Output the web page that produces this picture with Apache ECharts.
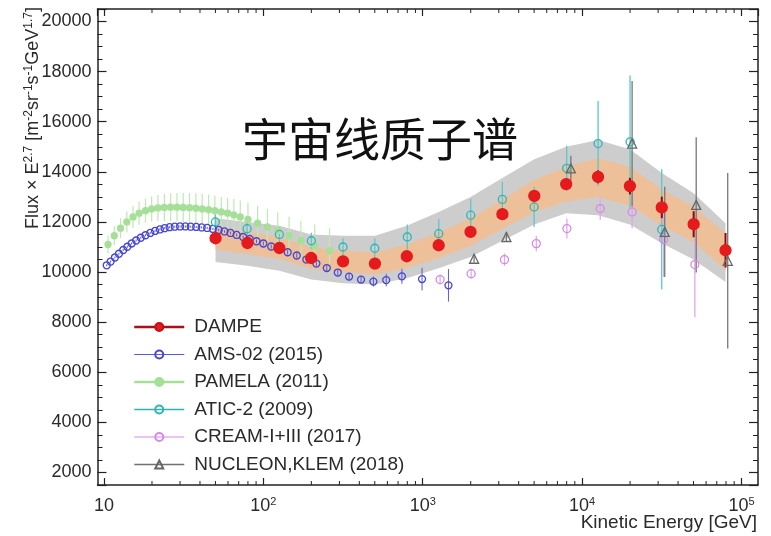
<!DOCTYPE html>
<html>
<head>
<meta charset="utf-8">
<script src="https://cdn.jsdelivr.net/npm/echarts@6.0.0/dist/echarts.min.js"></script>
<style>
  html, body { margin: 0; padding: 0; background: #fff; }
  #chart { width: 771px; height: 536px; }
</style>
</head>
<body>
<div id="chart"></div>
<script>
// Proton flux multiplied by E^2.7 versus kinetic energy (GeV)

// DAMPE points and their statistical errors
const dampeE   = [50.1, 79.4, 125.9, 199.5, 316.2, 501.2, 794.3, 1259, 1995, 3162, 5012, 7943, 12589, 19953, 31623, 50119, 79433];
const dampeF   = [11350, 11160, 10960, 10560, 10430, 10340, 10630, 11070, 11600, 12310, 13040, 13510, 13800, 13430, 12580, 11910, 10870];
const dampeErr = [20, 20, 25, 30, 35, 45, 55, 70, 90, 120, 160, 210, 260, 330, 430, 520, 690];

// DAMPE systematic bands (outer grey, inner orange)
const grayHi   = [12150, 12000, 11850, 11500, 11450, 11450, 11850, 12400, 13000, 13750, 14500, 15000, 15270, 14900, 13950, 13150, 11950];
const grayLo   = [10400, 10250, 10050, 9700, 9550, 9500, 9750, 10150, 10600, 11250, 11900, 12350, 12270, 11900, 11150, 10500, 9600];
const orangeHi = [11800, 11600, 11400, 10990, 10860, 10780, 11100, 11580, 12150, 12900, 13680, 14200, 14550, 14200, 13300, 12620, 11550];
const orangeLo = [10900, 10720, 10520, 10130, 10000, 9900, 10160, 10560, 11050, 11720, 12400, 12820, 13000, 12650, 11850, 11200, 10070];

// AMS-02 (2015)
const amsE   = [10.4, 11.0, 11.7, 12.4, 13.2, 14.0, 14.9, 15.9, 17.0, 18.2, 19.5, 20.9, 22.4, 24.0, 25.8, 27.8, 30.0, 32.4, 35.0, 37.9, 41.0, 44.4, 48.2, 52.4, 57.0, 62.2, 68.0, 74.6, 82.0, 90.5, 100, 112, 126, 142, 162, 186, 215, 250, 293, 345, 410, 490, 590, 740, 990, 1450];
const amsF   = [10270, 10420, 10580, 10730, 10880, 11010, 11140, 11260, 11370, 11470, 11560, 11640, 11700, 11750, 11790, 11810, 11820, 11820, 11810, 11800, 11780, 11760, 11720, 11680, 11620, 11560, 11480, 11400, 11320, 11230, 11140, 11020, 10920, 10790, 10660, 10500, 10340, 10160, 9980, 9820, 9700, 9620, 9680, 9830, 9720, 9470];
const amsErr = [40, 40, 40, 40, 40, 40, 40, 40, 40, 40, 40, 40, 40, 40, 40, 40, 40, 40, 40, 40, 40, 45, 45, 50, 50, 55, 60, 60, 65, 70, 75, 80, 85, 90, 95, 100, 110, 120, 130, 140, 150, 200, 250, 300, 450, 650];

// PAMELA (2011)
const pamE   = [10.6, 11.6, 12.7, 13.9, 15.2, 16.6, 18.2, 19.9, 21.8, 23.9, 26.2, 28.7, 31.4, 34.4, 37.7, 41.3, 45.3, 49.6, 54.4, 59.6, 65.3, 71.6, 80, 92, 106, 123, 145, 172, 210, 260];
const pamF   = [11100, 11450, 11750, 12000, 12200, 12350, 12450, 12520, 12560, 12580, 12590, 12590, 12580, 12570, 12550, 12520, 12490, 12450, 12400, 12350, 12280, 12200, 12100, 11950, 11800, 11650, 11450, 11250, 11050, 10850];
const pamErr = [350, 380, 400, 420, 440, 460, 480, 500, 520, 540, 560, 570, 580, 590, 600, 600, 600, 600, 600, 620, 640, 660, 680, 700, 720, 740, 760, 800, 850, 900];

// ATIC-2 (2009)
const aticE   = [50, 79, 126, 200, 316, 500, 800, 1260, 2000, 3160, 5000, 8000, 12600, 20000, 31600];
const aticF   = [12000, 11730, 11500, 11250, 11000, 10950, 11400, 11530, 12270, 12900, 12600, 14140, 15130, 15200, 11700];
const aticErr = [300, 300, 300, 320, 350, 400, 500, 600, 650, 700, 800, 900, 1700, 2650, 2400];

// CREAM-I+III (2017)
const creamE   = [1285, 2013, 3258, 5160, 8030, 13000, 20600, 32500, 51000];
const creamF   = [9700, 9935, 10495, 11135, 11735, 12535, 12400, 11300, 10300];
const creamErr = [200, 200, 250, 300, 400, 450, 650, 1500, 2100];

// NUCLEON, KLEM (2018)
const nucE   = [2100, 3350, 8500, 20600, 33000, 52000, 82000];
const nucF   = [10530, 11400, 14140, 15130, 11600, 12680, 10450];
const nucErr = [150, 200, 500, 2500, 1800, 2700, 3500];

// minor tick positions on the logarithmic energy axis
const xMinorTicks = [];
[10, 100, 1000, 10000].forEach(function (d) {
  for (let k = 2; k <= 9; k++) xMinorTicks.push(k * d);
});

const FONT = '"Liberation Sans", Arial, sans-serif';
const TEXT = '#2a2a2a';

function pairs(E, F) { return E.map(function (e, i) { return [e, F[i]]; }); }

function bandSeries(lo, hi, color, z) {
  return {
    type: 'custom', silent: true, z: z, clip: true,
    data: [[dampeE[0], lo[0]]],
    renderItem: function (params, api) {
      const pts = [];
      for (let i = 0; i < dampeE.length; i++) pts.push(api.coord([dampeE[i], hi[i]]));
      for (let i = dampeE.length - 1; i >= 0; i--) pts.push(api.coord([dampeE[i], lo[i]]));
      return { type: 'polygon', shape: { points: pts }, style: { fill: color } };
    }
  };
}

function errSeries(E, F, err, color, width, z) {
  return {
    type: 'custom', silent: true, z: z, clip: true,
    data: E.map(function (e, i) { return [e, F[i] - err[i], F[i] + err[i]]; }),
    encode: { x: 0, y: [1, 2] },
    renderItem: function (params, api) {
      const a = api.coord([api.value(0), api.value(1)]);
      const b = api.coord([api.value(0), api.value(2)]);
      return { type: 'line', shape: { x1: a[0], y1: a[1], x2: b[0], y2: b[1] }, style: { stroke: color, lineWidth: width } };
    }
  };
}

function markSeries(name, E, F, symbol, size, fill, stroke, z) {
  return {
    type: 'line', name: name, data: pairs(E, F), z: z,
    symbol: symbol, symbolSize: size, showSymbol: true, showAllSymbol: true,
    lineStyle: { opacity: 0 },
    itemStyle: { color: fill, borderColor: stroke, borderWidth: 1.3 },
    emphasis: { disabled: true }
  };
}

const xAxisBase = {
  type: 'log', logBase: 10, min: 9.1, max: 127000,
  axisLine: { show: true, onZero: false, lineStyle: { color: '#222', width: 1.5 } },
  axisTick: { show: true, inside: true, length: 7, lineStyle: { color: '#222', width: 1.2 } },
  splitLine: { show: false }
};
const yAxisBase = {
  type: 'value', min: 1500, max: 20500, splitNumber: 10,
  axisLine: { show: true, onZero: false, lineStyle: { color: '#222', width: 1.5 } },
  axisTick: { show: true, inside: true, length: 9, lineStyle: { color: '#222', width: 1.2 } },
  minorTick: { show: true, splitNumber: 4, length: 5, lineStyle: { color: '#222', width: 1 } },
  splitLine: { show: false }
};

function powerLabel(v) {
  const lg = Math.log10(v);
  const e = Math.round(lg);
  if (Math.abs(lg - e) > 1e-6) return '';
  if (e === 1) return '{b|10}';
  return '{b|10}{s|' + e + '}';
}

const chart = echarts.init(document.getElementById('chart'), null, { renderer: 'canvas' });

chart.setOption({
  animation: false,
  backgroundColor: '#fff',
  grid: { left: 97.5, right: 13, top: 9, bottom: 51, containLabel: false },
  xAxis: [
    Object.assign({}, xAxisBase, {
      position: 'bottom',
      axisLabel: {
        show: true, margin: 11, showMinLabel: false, showMaxLabel: false,
        formatter: powerLabel,
        rich: {
          b: { fontSize: 18, fontFamily: FONT, color: TEXT, lineHeight: 20 },
          s: { fontSize: 11, fontFamily: FONT, color: TEXT, lineHeight: 11, verticalAlign: 'top' }
        }
      }
    }),
    Object.assign({}, xAxisBase, { position: 'top', axisLabel: { show: false } })
  ],
  yAxis: [
    Object.assign({}, yAxisBase, {
      position: 'left',
      axisLabel: {
        show: true, margin: 6, showMinLabel: false, showMaxLabel: false,
        fontSize: 18, fontFamily: FONT, color: TEXT,
        formatter: function (v) { return v % 2000 === 0 ? String(v) : ''; }
      }
    }),
    Object.assign({}, yAxisBase, { position: 'right', axisLabel: { show: false } })
  ],
  legend: {
    orient: 'vertical', left: 128, top: 312,
    itemWidth: 50, itemHeight: 10, itemGap: 7.5,
    selectedMode: false,
    textStyle: { fontSize: 19, lineHeight: 20, color: TEXT, fontFamily: FONT, padding: [0, 0, 0, 5] },
    data: [
      { name: 'DAMPE', lineStyle: { color: '#a5121a', width: 2.5, opacity: 1 }, itemStyle: { color: '#e41a1c', borderColor: '#c01018' } },
      { name: 'AMS-02 (2015)', lineStyle: { color: '#5a5ad8', width: 1.2, opacity: 1 } },
      { name: 'PAMELA (2011)', lineStyle: { color: '#a6df98', width: 2.5, opacity: 1 } },
      { name: 'ATIC-2 (2009)', lineStyle: { color: '#2fb5b5', width: 1.5, opacity: 1 } },
      { name: 'CREAM-I+III (2017)', lineStyle: { color: '#d58ae6', width: 1.2, opacity: 1 } },
      { name: 'NUCLEON,KLEM (2018)', lineStyle: { color: '#707070', width: 1.5, opacity: 1 } }
    ]
  },
  graphic: [
    {
      type: 'text', x: 380, y: 139, z: 100,
      style: { text: '宇宙线质子谱', fontSize: 46, fontFamily: '"Noto Sans CJK SC"', fill: '#111', align: 'center', verticalAlign: 'middle' }
    },
    {
      type: 'text', x: 33, y: 118, rotation: Math.PI / 2, z: 100,
      style: {
        text: '{a|Flux × E}{s|2.7}{a| [m}{s|-2}{a|sr}{s|-1}{a|s}{s|-1}{a|GeV}{s|1.7}{a|]}',
        align: 'center', verticalAlign: 'middle', fill: TEXT,
        rich: {
          a: { fontSize: 18, fontFamily: FONT, fill: TEXT, lineHeight: 20 },
          s: { fontSize: 12, fontFamily: FONT, fill: TEXT, lineHeight: 12, verticalAlign: 'top' }
        }
      }
    },
    {
      type: 'text', x: 757, y: 523, z: 100,
      style: { text: 'Kinetic Energy [GeV]', fontSize: 19, fontFamily: FONT, fill: TEXT, align: 'right', verticalAlign: 'middle' }
    }
  ],
  series: [
    // minor ticks of the energy axes (bottom and top)
    {
      type: 'custom', silent: true, z: 10, clip: false,
      data: xMinorTicks.map(function (v) { return [v, 10000]; }),
      renderItem: function (params, api) {
        const cs = params.coordSys;
        const x = api.coord([api.value(0), 10000])[0];
        const yb = cs.y + cs.height, yt = cs.y;
        return {
          type: 'group',
          children: [
            { type: 'line', shape: { x1: x, y1: yb, x2: x, y2: yb - 4 }, style: { stroke: '#222', lineWidth: 1 } },
            { type: 'line', shape: { x1: x, y1: yt, x2: x, y2: yt + 4 }, style: { stroke: '#222', lineWidth: 1 } }
          ]
        };
      }
    },
    bandSeries(grayLo, grayHi, '#cdcdcd', 1),
    bandSeries(orangeLo, orangeHi, '#eec09a', 1),
    errSeries(pamE, pamF, pamErr, '#bfe8b4', 1.2, 2),
    errSeries(amsE, amsF, amsErr, '#5a5ad8', 1, 3),
    errSeries(aticE, aticF, aticErr, '#5cc8c8', 1.3, 3),
    errSeries(creamE, creamF, creamErr, '#e0a8ec', 1.3, 3),
    errSeries(nucE, nucF, nucErr, '#777777', 1.3, 3),
    errSeries(dampeE, dampeF, dampeErr, '#8b0a10', 2, 4),
    markSeries('PAMELA (2011)', pamE, pamF, 'circle', 6, '#a6df98', '#a6df98', 5),
    markSeries('AMS-02 (2015)', amsE, amsF, 'circle', 7, 'rgba(0,0,0,0)', '#4646d2', 6),
    markSeries('ATIC-2 (2009)', aticE, aticF, 'circle', 8, 'rgba(0,0,0,0)', '#2fb5b5', 6),
    markSeries('CREAM-I+III (2017)', creamE, creamF, 'circle', 8, 'rgba(0,0,0,0)', '#d58ae6', 6),
    markSeries('NUCLEON,KLEM (2018)', nucE, nucF, 'triangle', 9, 'rgba(0,0,0,0)', '#666666', 6),
    markSeries('DAMPE', dampeE, dampeF, 'circle', 11, '#e41a1c', '#e41a1c', 7)
  ]
});
</script>
</body>
</html>
